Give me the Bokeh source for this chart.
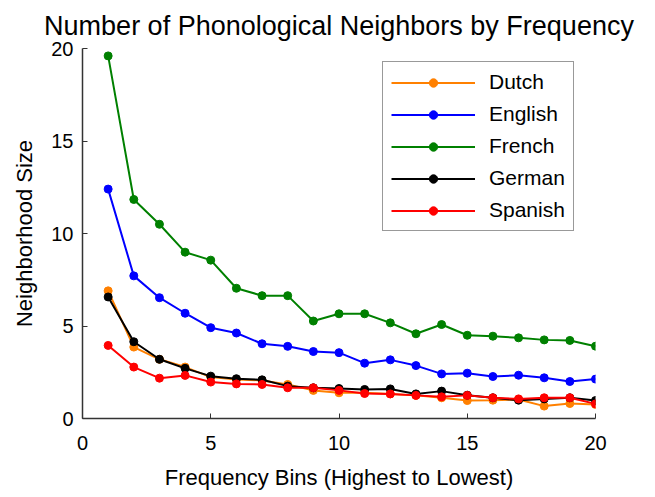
from bokeh.plotting import figure
from bokeh.models import Legend, LegendItem, FixedTicker, Range1d
from bokeh.embed import file_html
from bokeh.resources import INLINE

bins = list(range(1, 21))
dutch = [6.9, 3.86, 3.2, 2.78, 2.24, 2.11, 2.06, 1.84, 1.52, 1.39, 1.39, 1.33, 1.25, 1.12, 0.97, 0.99, 1.03, 0.67, 0.81, 0.76]
english = [12.4, 7.71, 6.53, 5.69, 4.91, 4.62, 4.04, 3.9, 3.62, 3.56, 2.99, 3.17, 2.86, 2.41, 2.45, 2.27, 2.34, 2.2, 2.0, 2.13]
french = [19.6, 11.84, 10.5, 8.99, 8.56, 7.04, 6.64, 6.64, 5.27, 5.66, 5.66, 5.17, 4.58, 5.08, 4.5, 4.45, 4.36, 4.25, 4.22, 3.91]
german = [6.57, 4.15, 3.2, 2.71, 2.29, 2.15, 2.09, 1.75, 1.66, 1.62, 1.57, 1.6, 1.33, 1.48, 1.26, 1.12, 0.99, 1.06, 1.12, 0.97]
spanish = [3.95, 2.78, 2.18, 2.33, 1.97, 1.87, 1.84, 1.66, 1.66, 1.52, 1.35, 1.33, 1.25, 1.17, 1.25, 1.12, 1.06, 1.12, 1.12, 0.79]
title_text = "Number of Phonological Neighbors by Frequency"

series = [("Dutch", dutch, "#FF8000"), ("English", english, "#0000FF"),
          ("French", french, "#008000"), ("German", german, "#000000"),
          ("Spanish", spanish, "#FF0000")]

FONT = "Liberation Sans"

p = figure(width=647, height=494, output_backend="svg", toolbar_location=None,
           x_range=Range1d(0, 20), y_range=Range1d(0, 20),
           min_border_left=82, min_border_right=52, min_border_top=48, min_border_bottom=76)
p.outline_line_color = None
p.xgrid.visible = False
p.ygrid.visible = False

p.title.text = title_text
p.title.text_font = FONT
p.title.text_font_size = "27px"
p.title.text_font_style = "normal"
p.title.text_color = "black"
p.title.align = "center"
p.title.standoff = 15

items = []
for name, vals, col in series:
    r1 = p.line(bins, vals, line_color=col, line_width=2)
    r2 = p.scatter(bins, vals, size=8, fill_color=col, line_color=col)
    items.append(LegendItem(label=name, renderers=[r1, r2]))

for ax in (p.xaxis[0], p.yaxis[0]):
    ax.ticker = FixedTicker(ticks=[0, 5, 10, 15, 20])
    ax.major_tick_in = 5
    ax.major_tick_out = 0
    ax.minor_tick_line_color = None
    ax.axis_line_color = "#333333"
    ax.major_tick_line_color = "#333333"
    ax.axis_line_width = 1.5
    ax.major_label_text_font = FONT
    ax.major_label_text_font_size = "20px"
    ax.major_label_text_color = "black"
    ax.axis_label_text_font = FONT
    ax.axis_label_text_font_size = "22px"
    ax.axis_label_text_font_style = "normal"
    ax.axis_label_text_color = "black"

p.xaxis[0].axis_label = "Frequency Bins (Highest to Lowest)"
p.yaxis[0].axis_label = "Neighborhood Size"
p.xaxis[0].major_label_standoff = 17
p.yaxis[0].major_label_standoff = 9
p.xaxis[0].axis_label_standoff = 12
p.yaxis[0].axis_label_standoff = 11

legend = Legend(items=items, location=(300, 187))
legend.border_line_color = "#333333"
legend.border_line_width = 1.5
legend.label_text_font = FONT
legend.label_text_font_size = "21px"
legend.label_text_color = "black"
legend.glyph_width = 84
legend.glyph_height = 21
legend.label_height = 21
legend.spacing = 8
legend.padding = 8
legend.margin = 0
legend.label_standoff = 14
p.add_layout(legend, "center")

open("out.html", "w").write(file_html(p, INLINE))
